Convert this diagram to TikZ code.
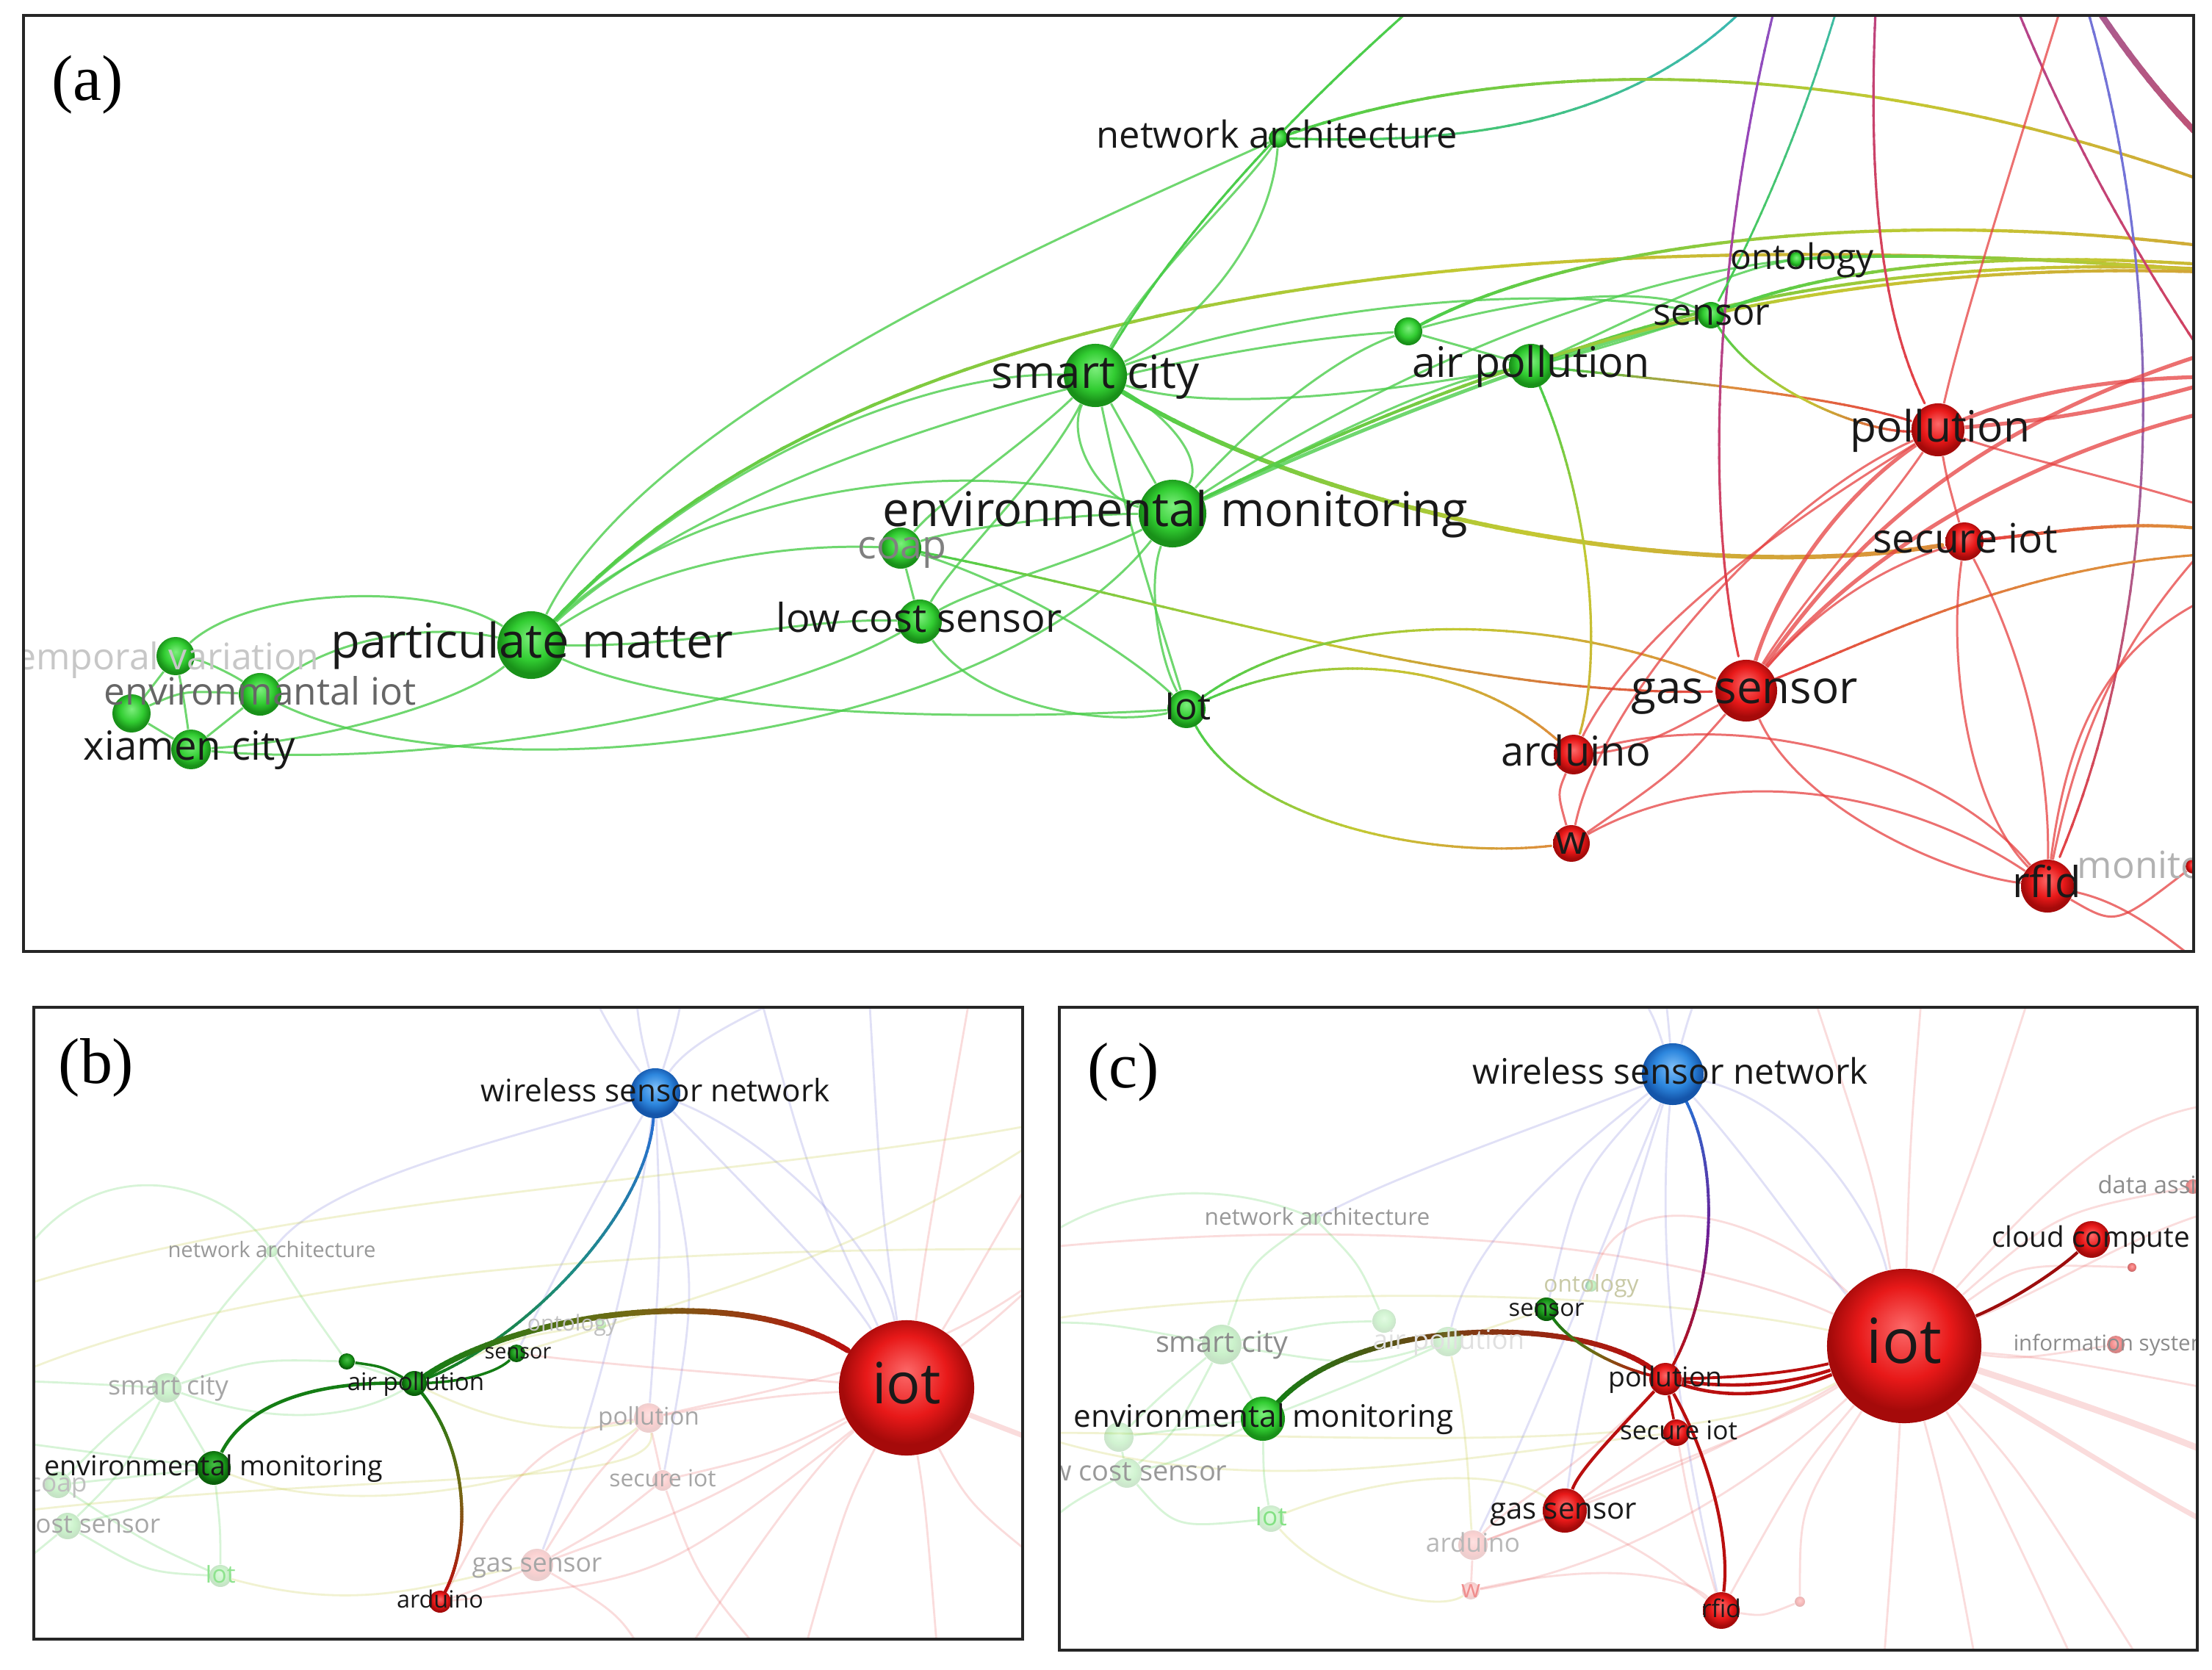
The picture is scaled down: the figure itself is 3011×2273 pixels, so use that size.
\documentclass[tikz,border=0pt]{standalone}
\usepackage{fontspec}
\setmainfont{Open Sans}
\newfontfamily\tnr{Liberation Serif}
\usetikzlibrary{decorations.markings}
\definecolor{gL}{RGB}{125,238,125}
\definecolor{gN}{RGB}{50,205,50}
\definecolor{gD}{RGB}{25,145,25}
\definecolor{gdL}{RGB}{70,190,70}
\definecolor{gdN}{RGB}{25,150,25}
\definecolor{gdD}{RGB}{10,95,10}
\definecolor{rL}{RGB}{252,105,105}
\definecolor{rN}{RGB}{232,25,25}
\definecolor{rD}{RGB}{165,10,10}
\definecolor{bL}{RGB}{125,190,248}
\definecolor{bN}{RGB}{45,135,222}
\definecolor{bD}{RGB}{20,85,170}
\definecolor{gE}{RGB}{75,205,75}
\definecolor{rE}{RGB}{230,65,65}
\definecolor{yE}{RGB}{195,200,50}
\definecolor{oE}{RGB}{222,140,60}
\definecolor{tE}{RGB}{60,185,175}
\definecolor{pE}{RGB}{150,70,185}
\definecolor{vE}{RGB}{115,115,215}
\definecolor{gH}{RGB}{20,125,20}
\definecolor{rH}{RGB}{185,15,15}
\definecolor{bH}{RGB}{40,110,210}
\definecolor{oH}{RGB}{115,105,20}
\definecolor{nH}{RGB}{125,60,20}
\definecolor{mH}{RGB}{110,30,150}
\definecolor{cH}{RGB}{30,140,130}
\pgfdeclareradialshading{shG}{\pgfpoint{0bp}{6bp}}{color(0bp)=(gL); color(15bp)=(gN); color(24bp)=(gD); color(50bp)=(gD)}
\pgfdeclareradialshading{shGd}{\pgfpoint{0bp}{6bp}}{color(0bp)=(gdL); color(15bp)=(gdN); color(24bp)=(gdD); color(50bp)=(gdD)}
\pgfdeclareradialshading{shR}{\pgfpoint{0bp}{6bp}}{color(0bp)=(rL); color(15bp)=(rN); color(24bp)=(rD); color(50bp)=(rD)}
\pgfdeclareradialshading{shB}{\pgfpoint{0bp}{6bp}}{color(0bp)=(bL); color(15bp)=(bN); color(24bp)=(bD); color(50bp)=(bD)}
\pgfdeclarelayer{back}
\pgfdeclarelayer{edges}
\pgfsetlayers{back,edges,main}
\tikzset{
  grad/.style n args={4}{
    decoration={markings,
      mark=between positions 0 and 1 step 0.0125 with {%
        \pgfmathsetmacro\gpos{(\pgfkeysvalueof{/pgf/decoration/mark info/distance from start})/(\pgfdecoratedpathlength)}%
        \pgfmathsetmacro\ghalf{0.0075*\pgfdecoratedpathlength}%
        \ifdim\gpos pt<0.5pt
          \pgfmathtruncatemacro\gq{200*\gpos}%
          \colorlet{gcur}{#2!\gq!#1}%
        \else
          \pgfmathtruncatemacro\gq{200*\gpos-100}%
          \colorlet{gcur}{#3!\gq!#2}%
        \fi
        \draw[gcur, line width=#4, line cap=round] (-\ghalf pt,0) -- (\ghalf pt,0);
      }},
    decorate},
  lbl/.style={inner sep=0pt, text=black!90, font=\fontsize{#1}{#1}\selectfont, text height=#1*0.75pt, text depth=#1*0.2pt},
  plab/.style={inner sep=0pt, font=\tnr\fontsize{25}{25}\selectfont},
  gball/.style={circle, inner sep=0pt, draw=none, shading=shG},
  dgball/.style={circle, inner sep=0pt, draw=none, shading=shGd},
  rball/.style={circle, inner sep=0pt, draw=none, shading=shR},
  bball/.style={circle, inner sep=0pt, draw=none, shading=shB},
  eg/.style={gE, line width=0.85pt, opacity=0.8},
  egT/.style={gE, line width=1.4pt, opacity=0.8},
  er/.style={rE, line width=0.85pt, opacity=0.75},
  erT/.style={rE, line width=1.5pt, opacity=0.75},
  fr/.style={rE, line width=0.8pt, opacity=0.18},
  fg/.style={gE, line width=0.8pt, opacity=0.22},
  fb/.style={vE, line width=0.8pt, opacity=0.22},
  fy/.style={yE, line width=0.8pt, opacity=0.22},
  frame/.style={draw=black!85, line width=1.2pt}
}
\begin{document}
\begin{tikzpicture}[x=0.01cm,y=-0.01cm]
\useasboundingbox (0,0) rectangle (3011,2273);
\begin{pgfonlayer}{back}
\fill[white] (0,0) rectangle (3011,2273);
\end{pgfonlayer}

% ================= PANEL (a) =================
\begin{scope}
\clip (32,21) rectangle (2986,1295);
\coordinate (IOTa) at (3350,400);
\coordinate (WSNa) at (2600,-500);
\coordinate (R1) at (3250,520);
\coordinate (R2) at (3200,760);
\coordinate (R3) at (3100,1400);
\coordinate (T1) at (2900,-300);
\node[gball,minimum size=0.52cm] (tvA) at (239,893) {};
\node[gball,minimum size=0.58cm] (eiotA) at (354,945) {};
\node[gball,minimum size=0.52cm] (n4A) at (179,971) {};
\node[gball,minimum size=0.54cm] (xcA) at (260,1020) {};
\node[gball,minimum size=0.92cm] (pmA) at (723,878) {};
\node[gball,minimum size=0.60cm] (lcsA) at (1252,846) {};
\node[gball,minimum size=0.56cm] (coapA) at (1226,746) {};
\node[gball,minimum size=0.92cm] (emA) at (1596,699) {};
\node[gball,minimum size=0.52cm] (iotsA) at (1615,965) {};
\node[gball,minimum size=0.86cm] (scA) at (1491,511) {};
\node[gball,minimum size=0.26cm] (naA) at (1740,188) {};
\node[gball,minimum size=0.38cm] (apsA) at (1917,451) {};
\node[gball,minimum size=0.60cm] (apA) at (2084,498) {};
\node[gball,minimum size=0.36cm] (senA) at (2329,429) {};
\node[gball,minimum size=0.20cm] (ontA) at (2445,353) {};
\node[rball,minimum size=0.72cm] (polA) at (2638,585) {};
\node[rball,minimum size=0.52cm] (siotA) at (2674,737) {};
\node[rball,minimum size=0.84cm] (gsA) at (2377,940) {};
\node[rball,minimum size=0.54cm] (ardA) at (2142,1027) {};
\node[rball,minimum size=0.50cm] (wA) at (2139,1148) {};
\node[rball,minimum size=0.72cm] (rfidA) at (2787,1206) {};
\node[rball,minimum size=0.20cm] (monA) at (2985,1179) {};
\node[lbl=14.2,text=black!22] (tvAL) at (219,898) {temporal variation};
\node[lbl=14.6,text=black!60] (eiotAL) at (354,945) {environmantal iot};
\node[lbl=15.5] (xcAL) at (258,1020) {xiamen city};
\node[lbl=18.5] (pmAL) at (724,878) {particulate matter};
\node[lbl=15.4] (lcsAL) at (1251,846) {low cost sensor};
\node[lbl=15.3,text=black!50] (coapAL) at (1228,746) {coap};
\node[lbl=18.5] (emAL) at (1600,699) {environmental monitoring};
\node[lbl=14.5] (iotsAL) at (1617,965) {Iot};
\node[lbl=17.6] (scAL) at (1491,511) {smart city};
\node[lbl=14.4] (naAL) at (1738,188) {network architecture};
\node[lbl=16.3] (apAL) at (2084,498) {air pollution};
\node[lbl=14.4] (senAL) at (2330,429) {sensor};
\node[lbl=13.6] (ontAL) at (2453,353) {ontology};
\node[lbl=16.7] (polAL) at (2641,585) {pollution};
\node[lbl=15.7] (siotAL) at (2675,737) {secure iot};
\node[lbl=17.6] (gsAL) at (2375,940) {gas sensor};
\node[lbl=15.9] (ardAL) at (2145,1027) {arduino};
\node[lbl=15.5] (wAL) at (2139,1148) {w};
\node[lbl=16.5] (rfidAL) at (2786,1206) {rfid};
\node[lbl=14.5,text=black!30] (monAL) at (2960,1181) {monitoring};
\end{scope}
\node[plab] (labA) at (119,115) {(a)};

% ================= PANEL (b) =================
\begin{scope}
\clip (46,1371) rectangle (1392,2231);
\coordinate (bR1) at (1460,1520); \coordinate (bR2) at (1460,1700);
\coordinate (bR3) at (1460,1980); \coordinate (bR4) at (1460,2160);
\coordinate (bB1) at (1280,2300); \coordinate (bB2) at (1080,2300);
\coordinate (bB3) at (900,2300);
\coordinate (bT1) at (1330,1300); \coordinate (bT2) at (1180,1300);
\coordinate (bT3) at (1020,1300); \coordinate (bT4) at (860,1300);
\coordinate (bT5) at (940,1300); \coordinate (bT6) at (780,1300);
\coordinate (bL1) at (0,1880); \coordinate (bL2) at (0,1960);
\coordinate (bL3) at (0,2150); \coordinate (bL4) at (0,1760);
\coordinate (bL5) at (0,2060);
\node[gball,opacity=0.25,minimum size=0.16cm] (naB) at (370,1703) {};
\node[gball,opacity=0.25,minimum size=0.40cm] (scB) at (227,1889) {};
\node[gball,opacity=0.25,minimum size=0.36cm] (coapB) at (79,2021) {};
\node[gball,opacity=0.25,minimum size=0.36cm] (lcsB) at (92,2077) {};
\node[gball,opacity=0.25,minimum size=0.30cm] (iotsB) at (300,2145) {};
\node[rball,opacity=0.2,minimum size=0.40cm] (polB) at (883,1930) {};
\node[rball,opacity=0.2,minimum size=0.28cm] (siotB) at (902,2015) {};
\node[rball,opacity=0.2,minimum size=0.44cm] (gsB) at (731,2130) {};
\node[gball,opacity=0.25,minimum size=0.14cm] (ontB) at (818,1803) {};
\node[dgball,minimum size=0.24cm] (senB) at (703,1842) {};
\node[dgball,minimum size=0.22cm] (apsB) at (472,1853) {};
\node[dgball,minimum size=0.34cm] (apB) at (564,1883) {};
\node[dgball,minimum size=0.46cm] (emB) at (291,1998) {};
\node[rball,minimum size=0.30cm] (ardB) at (599,2180) {};
\node[bball,minimum size=0.68cm] (wsnB) at (892,1488) {};
\node[rball,minimum size=1.84cm] (iotB) at (1234,1889) {};
\node[lbl=8.3,text=black!40] (naBL) at (370,1703) {network architecture};
\node[lbl=10.2,text=black!35] (scBL) at (229,1889) {smart city};
\node[lbl=10,text=black!25] (coapBL) at (79,2021) {coap};
\node[lbl=10,text=black!35] (lcsBL) at (92,2077) {low cost sensor};
\node[lbl=9.5,text=gN!55] (iotsBL) at (300,2145) {Iot};
\node[lbl=9.4,text=black!35] (polBL) at (883,1930) {pollution};
\node[lbl=9.1,text=black!35] (siotBL) at (902,2015) {secure iot};
\node[lbl=10.1,text=black!35] (gsBL) at (731,2130) {gas sensor};
\node[lbl=8.5,text=black!25] (ontBL) at (779,1803) {ontology};
\node[lbl=8.2] (senBL) at (705,1842) {sensor};
\node[lbl=9.4] (apBL) at (566,1883) {air pollution};
\node[lbl=10.7] (emBL) at (291,1998) {environmental monitoring};
\node[lbl=9.2] (ardBL) at (599,2180) {arduino};
\node[lbl=12] (wsnBL) at (892,1488) {wireless sensor network};
\node[lbl=22] (iotBL) at (1234,1889) {iot};
\end{scope}
\node[plab] (labB) at (131,1453) {(b)};

% ================= PANEL (c) =================
\begin{scope}
\clip (1442,1371) rectangle (2991,2246);
\coordinate (cR1) at (3060,1500); \coordinate (cR2) at (3060,1640);
\coordinate (cR3) at (3060,1900); \coordinate (cR4) at (3060,2000);
\coordinate (cR5) at (3060,2100);
\coordinate (cB1) at (2700,2320); \coordinate (cB2) at (2560,2320);
\coordinate (cB3) at (2850,2320); \coordinate (cB4) at (2950,2320);
\coordinate (cT1) at (2450,1300); \coordinate (cT2) at (2620,1300);
\coordinate (cT3) at (2780,1300); \coordinate (cT4) at (2200,1300);
\coordinate (cT5) at (2330,1300); \coordinate (cT6) at (2260,1300);
\coordinate (cL1) at (1400,1800); \coordinate (cL2) at (1400,1950);
\coordinate (cL3) at (1400,2100); \coordinate (cL4) at (1400,1700);
\node[gball,opacity=0.25,minimum size=0.16cm] (naC) at (1790,1659) {};
\node[gball,opacity=0.25,minimum size=0.54cm] (scC) at (1663,1830) {};
\node[gball,opacity=0.22,minimum size=0.40cm] (apC) at (1971,1826) {};
\node[gball,opacity=0.22,minimum size=0.32cm] (apsC) at (1884,1798) {};
\node[gball,opacity=0.22,minimum size=0.40cm] (coapC) at (1523,1956) {};
\node[gball,opacity=0.22,minimum size=0.40cm] (lcsC) at (1534,2005) {};
\node[gball,opacity=0.22,minimum size=0.36cm] (iotsC) at (1730,2067) {};
\node[rball,opacity=0.2,minimum size=0.40cm] (ardC) at (2005,2103) {};
\node[rball,opacity=0.2,minimum size=0.24cm] (wC) at (2002,2165) {};
\node[gball,opacity=0.3,minimum size=0.16cm] (ontC) at (2166,1750) {};
\node[rball,opacity=0.5,minimum size=0.20cm] (daC) at (2985,1615) {};
\node[rball,opacity=0.5,minimum size=0.24cm] (isC) at (2880,1830) {};
\node[rball,opacity=0.6,minimum size=0.12cm] (x1C) at (2902,1725) {};
\node[rball,opacity=0.3,minimum size=0.14cm] (x2C) at (2450,2180) {};
\node[gball,minimum size=0.60cm] (emC) at (1719,1931) {};
\node[dgball,minimum size=0.32cm] (senC) at (2105,1782) {};
\node[rball,minimum size=0.44cm] (polC) at (2267,1877) {};
\node[rball,minimum size=0.36cm] (siotC) at (2282,1950) {};
\node[rball,minimum size=0.60cm] (gsC) at (2130,2056) {};
\node[rball,minimum size=0.50cm] (rfidC) at (2343,2192) {};
\node[rball,minimum size=0.50cm] (ccC) at (2847,1687) {};
\node[bball,minimum size=0.84cm] (wsnC) at (2277,1462) {};
\node[rball,minimum size=2.10cm] (iotC) at (2592,1832) {};
\node[lbl=9,text=black!40] (naCL) at (1793,1659) {network architecture};
\node[lbl=11.2,text=black!45] (scCL) at (1663,1830) {smart city};
\node[lbl=10.4,text=black!12] (apCL) at (1972,1826) {air pollution};
\node[lbl=10.8,text=black!40] (lcsCL) at (1534,2005) {low cost sensor};
\node[lbl=10,text=gN!60] (iotsCL) at (1730,2067) {Iot};
\node[lbl=10,text=black!28] (ardCL) at (2005,2103) {arduino};
\node[lbl=9.5,text=rE!60] (wCL) at (2002,2165) {w};
\node[lbl=9,text=yE!60!black!40] (ontCL) at (2166,1750) {ontology};
\node[lbl=9.3,text=black!45] (daCL) at (2985,1615) {data assimilation};
\node[lbl=8.4,text=black!45] (isCL) at (2875,1830) {information system};
\node[lbl=12] (emCL) at (1720,1931) {environmental monitoring};
\node[lbl=9.3] (senCL) at (2105,1782) {sensor};
\node[lbl=10.6] (polCL) at (2267,1877) {pollution};
\node[lbl=10] (siotCL) at (2285,1950) {secure iot};
\node[lbl=11.4] (gsCL) at (2128,2056) {gas sensor};
\node[lbl=9.5] (rfidCL) at (2343,2192) {rfid};
\node[lbl=11] (ccCL) at (2846,1687) {cloud compute};
\node[lbl=13.6] (wsnCL) at (2274,1462) {wireless sensor network};
\node[lbl=24] (iotCL) at (2592,1832) {iot};
\end{scope}
\node[plab] (labC) at (1529,1459) {(c)};

% ================= EDGES =================
\begin{pgfonlayer}{edges}
\begin{scope}
\clip (32,21) rectangle (2986,1295);
% left cluster
\draw[eg] (tvA) .. controls (340,800) and (590,790) .. (pmA);
\draw[eg] (tvA) .. controls (280,900) and (320,920) .. (eiotA);
\draw[eg] (tvA) -- (n4A);
\draw[eg] (tvA) .. controls (250,950) .. (xcA);
\draw[eg] (n4A) .. controls (250,940) .. (eiotA);
\draw[eg] (n4A) -- (xcA);
\draw[eg] (eiotA) -- (xcA);
\draw[eg] (eiotA) .. controls (470,860) and (600,850) .. (pmA);
\draw[eg] (xcA) .. controls (430,1010) and (620,960) .. (pmA);
\draw[eg] (eiotA) .. controls (650,1090) and (1350,1010) .. (emA);
\draw[eg] (xcA) .. controls (600,1050) and (1050,960) .. (lcsA);
% particulate matter
\draw[eg] (pmA) .. controls (950,640) and (1250,505) .. (scA);
\draw[eg] (pmA) .. controls (900,700) and (1250,600) .. (emA);
\draw[eg] (pmA) .. controls (900,760) and (1080,740) .. (coapA);
\draw[eg] (pmA) .. controls (950,880) and (1100,840) .. (lcsA);
\draw[eg] (pmA) .. controls (950,980) and (1350,980) .. (iotsA);
\draw[eg] (pmA) .. controls (1000,620) and (1600,470) .. (apsA);
\draw[eg] (pmA) .. controls (880,560) and (1450,320) .. (naA);
\path[grad={gE}{yE}{oE}{1.2pt}] (pmA) .. controls (1150,420) and (2000,250) .. (IOTa);
% smart city
\draw[eg] (scA) .. controls (1560,380) and (1690,260) .. (naA);
\draw[eg] (naA) .. controls (1730,330) and (1620,450) .. (scA);
\path[grad={gE}{gE}{tE}{0.9pt}] (scA) .. controls (1620,300) and (1850,0) .. (WSNa);
\path[grad={gE}{tE}{tE}{0.9pt}] (naA) .. controls (2100,200) and (2500,150) .. (WSNa);
\path[grad={gE}{yE}{oE}{1.1pt}] (naA) .. controls (2100,60) and (2700,60) .. (IOTa);
\draw[eg] (scA) -- (emA);
\draw[eg] (scA) .. controls (1450,600) and (1500,680) .. (emA);
\draw[eg] (scA) .. controls (1580,560) and (1640,620) .. (emA);
\draw[eg] (scA) .. controls (1420,650) and (1300,760) .. (lcsA);
\draw[eg] (scA) .. controls (1400,600) and (1280,680) .. (coapA);
\draw[eg] (scA) .. controls (1530,700) and (1580,850) .. (iotsA);
\draw[eg] (scA) .. controls (1640,560) and (1850,540) .. (apA);
\draw[eg] (scA) .. controls (1750,420) and (2100,380) .. (senA);
\path[grad={gE}{yE}{oE}{1.7pt}] (scA) .. controls (1800,700) and (2300,800) .. (siotA);
% environmental monitoring
\draw[eg] (emA) .. controls (1800,600) and (1950,520) .. (apA);
\draw[eg] (emA) .. controls (1720,560) and (1830,480) .. (apsA);
\draw[egT] (emA) .. controls (1900,560) and (2150,470) .. (senA);
\draw[eg] (emA) .. controls (1900,500) and (2200,380) .. (ontA);
\draw[eg] (emA) .. controls (1560,800) and (1580,900) .. (iotsA);
\draw[eg] (emA) .. controls (1480,760) and (1330,800) .. (lcsA);
\draw[eg] (emA) .. controls (1450,700) and (1300,720) .. (coapA);
\draw[eg] (coapA) -- (lcsA);
\draw[eg] (coapA) .. controls (1400,800) and (1550,900) .. (iotsA);
\draw[eg] (lcsA) .. controls (1330,960) and (1500,990) .. (iotsA);
\path[grad={gE}{yE}{rE}{0.9pt}] (coapA) .. controls (1600,820) and (2000,950) .. (gsA);
\path[grad={gE}{yE}{oE}{0.9pt}] (iotsA) .. controls (1800,830) and (2100,830) .. (gsA);
\path[grad={gE}{yE}{oE}{0.9pt}] (iotsA) .. controls (1700,1120) and (1950,1170) .. (wA);
\path[grad={gE}{yE}{oE}{0.9pt}] (iotsA) .. controls (1800,880) and (2000,900) .. (ardA);
% air pollution, sensor
\draw[eg] (apsA) -- (apA);
\draw[eg] (apsA) .. controls (2100,400) and (2250,390) .. (senA);
\draw[eg] (apA) .. controls (2200,470) and (2280,440) .. (senA);
\draw[eg] (apA) .. controls (2250,420) and (2350,370) .. (ontA);
\path[grad={gE}{yE}{yE!60!oE}{0.9pt}] (apA) .. controls (2170,700) and (2180,900) .. (ardA);
\path[grad={gE}{oE}{rE}{0.9pt}] (apA) .. controls (2300,520) and (2500,540) .. (polA);
\path[grad={gE}{yE}{rE}{0.9pt}] (senA) .. controls (2400,540) and (2550,590) .. (polA);
\path[grad={gE}{yE}{oE}{1.2pt}] (apsA) .. controls (2200,300) and (2800,260) .. (IOTa);
\path[grad={gE}{yE}{oE}{1.2pt}] (apA) .. controls (2400,380) and (2800,320) .. (IOTa);
\path[grad={gE}{yE}{oE}{1.2pt}] (senA) .. controls (2550,340) and (2900,330) .. (IOTa);
\path[grad={gE}{yE}{oE}{1.2pt}] (ontA) .. controls (2650,340) and (2950,360) .. (IOTa);
\path[grad={gE}{yE}{oE}{1.2pt}] (emA) .. controls (2100,450) and (2600,300) .. (IOTa);
% from wireless sensor network (top)
\path[grad={vE}{pE}{rE}{0.9pt}] (WSNa) .. controls (2350,0) and (2300,600) .. (gsA);
\path[grad={pE}{pE!50!rE}{rE}{0.9pt}] (WSNa) .. controls (2540,0) and (2520,350) .. (polA);
\path[grad={tE}{tE}{gE}{0.8pt}] (WSNa) .. controls (2560,-100) and (2450,200) .. (senA);
\path[grad={vE}{vE}{rE}{0.9pt}] (WSNa) .. controls (2950,0) and (3000,700) .. (rfidA);
\path[grad={vE}{vE!50!rE}{rE}{2.4pt}] (WSNa) .. controls (2800,0) and (3000,300) .. (IOTa);
\path[grad={pE}{pE!50!rE}{rE}{0.9pt}] (WSNa) .. controls (2700,100) and (3000,500) .. (R2);
\draw[er] (T1) .. controls (2780,100) and (2680,400) .. (polA);
% red cluster
\draw[er] (polA) .. controls (2650,650) .. (siotA);
\draw[er] (polA) .. controls (2560,700) and (2450,820) .. (gsA);
\draw[erT] (polA) .. controls (2500,680) and (2420,800) .. (gsA);
\draw[er] (polA) .. controls (2450,700) and (2230,850) .. (ardA);
\draw[er] (polA) .. controls (2420,680) and (2180,950) .. (wA);
\draw[erT] (polA) .. controls (2800,520) and (2950,500) .. (R1);
\draw[erT] (polA) .. controls (2800,570) and (2950,560) .. (IOTa);
\draw[er] (polA) .. controls (2800,640) and (2950,660) .. (R2);
\draw[er] (gsA) .. controls (2500,800) and (2600,760) .. (siotA);
\draw[erT] (gsA) .. controls (2550,700) and (2750,500) .. (IOTa);
\draw[erT] (gsA) .. controls (2530,760) and (2800,560) .. (R1);
\path[grad={rE}{oE}{oE}{0.9pt}] (gsA) .. controls (2600,850) and (2850,720) .. (R2);
\draw[er] (gsA) .. controls (2450,1100) and (2650,1190) .. (rfidA);
\draw[er] (ardA) .. controls (2380,960) and (2650,1040) .. (rfidA);
\draw[er] (wA) .. controls (2350,1030) and (2600,1080) .. (rfidA);
\draw[er] (ardA) .. controls (2120,1080) .. (wA);
\draw[er] (gsA) .. controls (2300,980) and (2240,1020) .. (ardA);
\draw[er] (gsA) .. controls (2280,1050) .. (wA);
\draw[er] (siotA) .. controls (2650,900) and (2680,1100) .. (rfidA);
\draw[er] (siotA) .. controls (2760,900) and (2790,1050) .. (rfidA);
\path[grad={rE}{oE}{oE}{1.2pt}] (siotA) .. controls (2850,720) and (2950,690) .. (R2);
\draw[er] (rfidA) .. controls (2850,900) and (2950,760) .. (R1);
\draw[er] (rfidA) .. controls (2820,950) and (2900,800) .. (R2);
\draw[er] (rfidA) .. controls (2880,1260) .. (monA);
\draw[er] (rfidA) .. controls (2900,1230) and (2960,1280) .. (R3);
\end{scope}

\begin{scope}
\clip (46,1371) rectangle (1392,2231);
\draw[fr] (iotB) .. controls (1320,1750) and (1400,1600) .. (bR1);
\draw[fr] (iotB) .. controls (1350,1800) .. (bR2);
\draw[fr,line width=2pt] (iotB) .. controls (1330,1930) .. (bR3);
\draw[fr] (iotB) .. controls (1320,2050) .. (bR4);
\draw[fr] (iotB) .. controls (1260,2050) .. (bB1);
\draw[fr] (iotB) .. controls (1150,2050) .. (bB2);
\draw[fr] (iotB) .. controls (1100,2000) and (1000,2150) .. (bB3);
\draw[fr] (iotB) .. controls (1260,1700) .. (bT1);
\draw[fb] (iotB) .. controls (1200,1650) .. (bT2);
\draw[fb] (iotB) .. controls (1100,1600) .. (bT3);
\draw[fr] (iotB) .. controls (1050,1900) .. (polB);
\draw[fr] (iotB) .. controls (1050,1980) .. (siotB);
\draw[fr] (iotB) .. controls (950,2050) .. (gsB);
\draw[fr] (iotB) .. controls (900,2150) .. (ardB);
\draw[fr] (iotB) .. controls (1000,1870) and (850,1860) .. (senB);
\draw[fb] (wsnB) .. controls (1000,1600) and (1150,1750) .. (iotB);
\draw[fb] (wsnB) .. controls (1050,1550) and (1200,1700) .. (iotB);
\draw[fb] (wsnB) .. controls (870,1400) .. (bT4);
\draw[fb] (wsnB) .. controls (920,1400) .. (bT5);
\draw[fb] (wsnB) .. controls (830,1400) .. (bT6);
\draw[fb] (wsnB) .. controls (950,1400) and (1100,1350) .. (bT2);
\draw[fb] (wsnB) .. controls (900,1700) .. (polB);
\draw[fb] (wsnB) .. controls (850,1800) and (780,2000) .. (gsB);
\draw[fb] (wsnB) .. controls (700,1550) and (450,1600) .. (naB);
\draw[fb] (wsnB) .. controls (950,1750) .. (siotB);
\draw[fb] (wsnB) .. controls (800,1650) .. (senB);
\draw[fr] (polB) -- (siotB);
\draw[fr] (polB) .. controls (800,2020) .. (gsB);
\draw[fr] (siotB) .. controls (820,2080) .. (gsB);
\draw[fr] (gsB) .. controls (660,2160) .. (ardB);
\draw[fr] (polB) .. controls (1100,1880) and (1300,1850) .. (bR2);
\draw[fr] (siotB) .. controls (950,2150) .. (bB2);
\draw[fr] (gsB) .. controls (850,2200) .. (bB3);
\draw[fr] (polB) .. controls (700,1950) and (650,2100) .. (ardB);
\draw[fg] (naB) .. controls (300,1780) .. (scB);
\draw[fg] (scB) -- (emB);
\draw[fg] (scB) .. controls (150,1950) .. (coapB);
\draw[fg] (scB) .. controls (170,2000) .. (lcsB);
\draw[fg] (emB) -- (coapB);
\draw[fg] (emB) .. controls (200,2050) .. (lcsB);
\draw[fg] (emB) .. controls (300,2080) .. (iotsB);
\draw[fg] (lcsB) .. controls (200,2140) .. (iotsB);
\draw[fg] (coapB) .. controls (200,2100) .. (iotsB);
\draw[fg] (scB) .. controls (350,1850) .. (apsB);
\draw[fg] (naB) .. controls (420,1780) .. (apsB);
\draw[fg] (scB) .. controls (50,1880) .. (bL1);
\draw[fg] (emB) .. controls (150,1980) .. (bL2);
\draw[fg] (lcsB) .. controls (40,2120) .. (bL3);
\draw[fg] (scB) .. controls (400,1950) and (500,1920) .. (apB);
\draw[fg] (naB) .. controls (300,1600) and (100,1550) .. (bL4);
\draw[fg] (apsB) -- (apB);
\draw[fy] (bL4) .. controls (400,1620) and (1100,1600) .. (bR1);
\draw[fy] (bL1) .. controls (400,1700) and (1100,1700) .. (bR2);
\draw[fy] (bL5) .. controls (500,2000) and (900,2030) .. (polB);
\draw[fy] (emB) .. controls (500,2080) and (800,2000) .. (polB);
\draw[fy] (iotsB) .. controls (500,2200) and (600,2150) .. (gsB);
\draw[fy] (apB) .. controls (700,1950) and (800,1950) .. (polB);
\draw[fy] (senB) .. controls (1000,1750) and (1200,1700) .. (bR1);
\draw[fy] (ontB) .. controls (700,1820) .. (apB);
% highlighted
\draw[gH, line width=1.3pt] (emB) .. controls (330,1920) and (410,1880) .. (apB);
\draw[gH, line width=1pt] (apsB) .. controls (520,1860) .. (apB);
\draw[gH, line width=1pt] (apB) .. controls (640,1880) and (680,1865) .. (senB);
\path[grad={bH}{cH}{gH}{1.1pt}] (wsnB) .. controls (880,1650) and (720,1820) .. (apB);
\path[grad={gH}{oH}{rH}{2.2pt}] (apB) .. controls (700,1790) and (1000,1740) .. (iotB);
\path[grad={gH}{oH}{rH}{1.2pt}] (apB) .. controls (640,1980) and (640,2100) .. (ardB);
\end{scope}

\begin{scope}
\clip (1442,1371) rectangle (2991,2246);
\draw[fr] (iotC) .. controls (2800,1750) and (2950,1650) .. (cR2);
\draw[fr] (iotC) .. controls (2800,1600) and (2900,1500) .. (cR1);
\draw[fr,line width=2.5pt] (iotC) .. controls (2800,1900) and (2950,1950) .. (cR4);
\draw[fr,line width=2pt] (iotC) .. controls (2800,1950) and (2950,2050) .. (cR5);
\draw[fr] (iotC) .. controls (2800,1850) .. (cR3);
\draw[fr] (iotC) .. controls (2700,2000) .. (cB3);
\draw[fr] (iotC) .. controls (2650,2050) .. (cB1);
\draw[fr] (iotC) .. controls (2580,2050) .. (cB2);
\draw[fr] (iotC) .. controls (2750,2000) .. (cB4);
\draw[fr] (iotC) .. controls (2550,1600) .. (cT1);
\draw[fr] (iotC) .. controls (2600,1550) .. (cT2);
\draw[fr] (iotC) .. controls (2700,1550) .. (cT3);
\draw[fr] (iotC) .. controls (2800,1650) .. (daC);
\draw[fr] (iotC) .. controls (2750,1850) .. (isC);
\draw[fr] (iotC) .. controls (2750,1720) .. (x1C);
\draw[fr] (iotC) .. controls (2450,2000) .. (rfidC);
\draw[fr] (iotC) .. controls (2450,2050) .. (x2C);
\draw[fr] (iotC) .. controls (2400,1950) and (2250,2000) .. (gsC);
\draw[fr] (iotC) .. controls (2300,2000) and (2150,2050) .. (ardC);
\draw[fr] (iotC) .. controls (2300,2100) and (2100,2150) .. (wC);
\draw[fr] (iotC) .. controls (2400,1650) and (2200,1600) .. (ontC);
\draw[fr] (iotC) .. controls (2300,1700) and (1900,1650) .. (cL4);
\draw[fy] (iotC) .. controls (2200,1750) and (1700,1750) .. (cL1);
\draw[fy] (iotC) .. controls (2300,1990) and (1800,1950) .. (cL2);
\draw[fb] (wsnC) .. controls (2250,1380) .. (cT4);
\draw[fb] (wsnC) .. controls (2300,1380) .. (cT5);
\draw[fb] (wsnC) .. controls (2270,1380) .. (cT6);
\draw[fb] (wsnC) .. controls (2400,1600) and (2500,1750) .. (iotC);
\draw[fb] (wsnC) .. controls (2450,1500) and (2550,1650) .. (iotC);
\draw[fb] (wsnC) .. controls (2150,1600) .. (senC);
\draw[fb] (wsnC) .. controls (2200,1700) and (2150,1900) .. (gsC);
\draw[fb] (wsnC) .. controls (2100,1600) and (2000,1700) .. (apC);
\draw[fb] (wsnC) .. controls (2050,1550) and (1900,1600) .. (naC);
\draw[fb] (wsnC) .. controls (2250,1750) and (2300,2000) .. (rfidC);
\draw[fb] (wsnC) .. controls (2200,1650) and (2080,1950) .. (ardC);
\draw[fr] (polC) .. controls (2150,2000) and (2050,2050) .. (ardC);
\draw[fr] (gsC) -- (ardC);
\draw[fr] (ardC) -- (wC);
\draw[fr] (gsC) .. controls (2250,2120) .. (rfidC);
\draw[fr] (wC) .. controls (2200,2120) and (2300,2150) .. (rfidC);
\draw[fr] (siotC) .. controls (2300,2050) .. (rfidC);
\draw[fr] (rfidC) .. controls (2400,2200) .. (x2C);
\draw[fr] (siotC) -- (gsC);
\draw[fg] (naC) .. controls (1700,1720) .. (scC);
\draw[fg] (scC) -- (emC);
\draw[fg] (scC) .. controls (1580,1900) .. (coapC);
\draw[fg] (scC) .. controls (1600,1950) .. (lcsC);
\draw[fg] (emC) -- (coapC);
\draw[fg] (emC) .. controls (1600,1990) .. (lcsC);
\draw[fg] (emC) .. controls (1720,2010) .. (iotsC);
\draw[fg] (lcsC) .. controls (1600,2080) .. (iotsC);
\draw[fg] (coapC) -- (lcsC);
\draw[fg] (scC) .. controls (1800,1800) .. (apsC);
\draw[fg] (scC) .. controls (1850,1860) .. (apC);
\draw[fg] (naC) .. controls (1850,1720) .. (apsC);
\draw[fg] (emC) .. controls (1850,1880) .. (apC);
\draw[fg] (scC) .. controls (1500,1800) .. (cL1);
\draw[fg] (lcsC) .. controls (1450,2050) .. (cL3);
\draw[fg] (naC) .. controls (1650,1600) and (1500,1620) .. (cL4);
\draw[fy] (apC) .. controls (2000,1950) and (2000,2050) .. (ardC);
\draw[fy] (iotsC) .. controls (1800,2150) and (1950,2200) .. (wC);
\draw[fy] (iotsC) .. controls (1900,2000) and (2050,2000) .. (gsC);
\draw[fy] (apC) .. controls (2050,1800) .. (senC);
\draw[fy] (cL2) .. controls (1700,2050) and (2000,1980) .. (siotC);
% highlighted
\path[grad={bH}{mH}{rH}{1.1pt}] (wsnC) .. controls (2345,1600) and (2330,1760) .. (polC);
\path[grad={gH}{nH}{rH}{2pt}] (emC) .. controls (1850,1790) and (2150,1790) .. (polC);
\path[grad={gH}{oH}{rH}{1.1pt}] (senC) .. controls (2140,1830) and (2200,1860) .. (polC);
\draw[rH, line width=1.3pt] (polC) .. controls (2350,1905) and (2420,1900) .. (iotC);
\draw[rH, line width=1.3pt] (polC) .. controls (2360,1890) and (2430,1885) .. (iotC);
\draw[rH, line width=1.1pt] (polC) .. controls (2360,1875) and (2430,1870) .. (iotC);
\draw[rH, line width=1.2pt] (polC) .. controls (2200,1950) and (2150,2000) .. (gsC);
\draw[rH, line width=1pt] (polC) -- (siotC);
\draw[rH, line width=1.2pt] (polC) .. controls (2330,1990) and (2355,2100) .. (rfidC);
\draw[rH!85!black, line width=1.2pt] (iotC) .. controls (2740,1770) and (2800,1730) .. (ccC);
\end{scope}
\end{pgfonlayer}

\draw[frame] (32,21) rectangle (2986,1295);
\draw[frame] (46,1371) rectangle (1392,2231);
\draw[frame] (1442,1371) rectangle (2991,2246);
\end{tikzpicture}
\end{document}
